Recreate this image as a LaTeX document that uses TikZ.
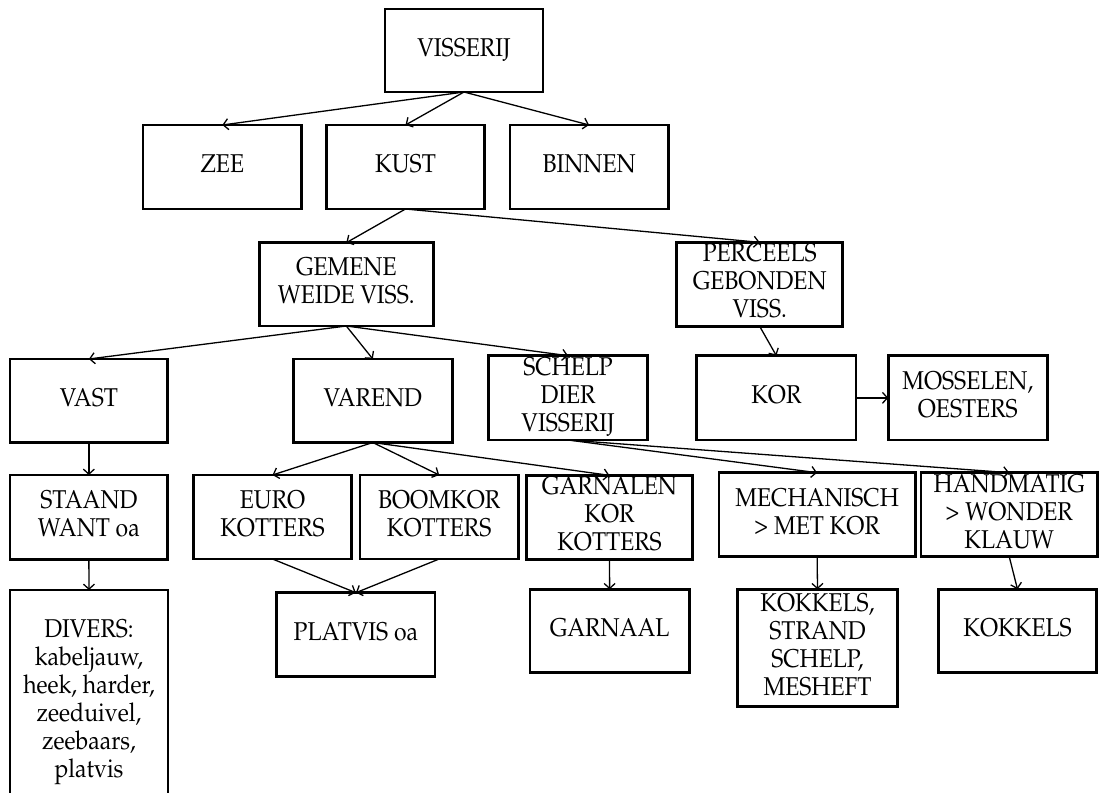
\documentclass[tikz,border=0pt]{standalone}
\usepackage[T1]{fontenc}
\usepackage{mathpazo}
\usepackage{graphicx}
\usetikzlibrary{arrows.meta}

% centred, slightly tall text block for the boxes
\newcommand\boxtext[1]{\scalebox{1}[1.12]{\begin{tabular}{@{}c@{}}#1\end{tabular}}}

\tikzset{
  box/.style={draw, line width=2.8pt, inner sep=0pt, outer sep=0pt,
              font=\fontsize{23}{25}\selectfont},
  link/.style={line width=1.3pt, -{Straight Barb[length=5pt,width=11pt]}},
}

% \bx{name}{left}{top}{right}{bottom}{text}
\newcommand\bx[6]{%
  \node[box, minimum width={#4-#2}, minimum height={#5-#3}]
    (#1) at ({(#2+#4)/2},{(#3+#5)/2}) {\boxtext{#6}};}

\begin{document}
\begin{tikzpicture}[x=1pt,y=-1pt]
\useasboundingbox (0,0) rectangle (1099,792);
\clip (0,0) rectangle (1099,792);

% level 0 and 1
\bx{vis}{385}{9}{543}{92}{VISSERIJ}
\bx{zee}{143}{125}{301.7}{209}{ZEE}
\bx{kust}{326.7}{125}{484.3}{209}{KUST}
\bx{binnen}{510}{125}{668.3}{209}{BINNEN}

% level 2
\bx{gemene}{259.3}{242.7}{433.3}{326}{GEMENE\\WEIDE VISS.}
\bx{perceels}{676.7}{242.7}{842.7}{326}{PERCEELS\\GEBONDEN\\VISS.}

% level 3
\bx{vast}{10}{359}{167.7}{442.3}{VAST}
\bx{varend}{293.3}{359}{452.3}{442.5}{VAREND}
\bx{schelp}{488.5}{355.7}{647.7}{440}{SCHELP\\DIER\\VISSERIJ}
\bx{kor}{696.7}{355.7}{856}{440}{KOR}
\bx{mosselen}{888.3}{355.7}{1047.3}{440}{MOSSELEN,\\OESTERS}

% level 4
\bx{staand}{10}{475}{167.7}{559.3}{STAAND\\WANT oa}
\bx{euro}{193.3}{475}{351.7}{559}{EURO\\KOTTERS}
\bx{boomkor}{360}{475}{518.3}{559}{BOOMKOR\\KOTTERS}
\bx{garnalen}{526.7}{475.7}{692.3}{559}{GARNALEN\\KOR\\KOTTERS}
\bx{mech}{719}{472.7}{915.3}{556.7}{MECHANISCH\\> MET KOR}
\bx{hand}{921}{472.7}{1097.5}{556.7}{HANDMATIG\\> WONDER\\KLAUW}

% level 5
\bx{divers}{10}{590}{168}{813.6}{DIVERS:\\kabeljauw,\\heek, harder,\\zeeduivel,\\zeebaars,\\platvis}
\bx{platvis}{276.7}{592.7}{435}{676.7}{PLATVIS oa}
\bx{garnaal}{530}{589.3}{689.3}{672.7}{GARNAAL}
\bx{kstrand}{737.7}{589.3}{897.3}{706.7}{KOKKELS,\\STRAND\\SCHELP,\\MESHEFT}
\bx{kokkels}{938.3}{589.3}{1096.7}{672.7}{KOKKELS}

% connectors
\draw[link] (vis.south) -- (zee.north);
\draw[link] (vis.south) -- (kust.north);
\draw[link] (vis.south) -- (binnen.north);
\draw[link] (kust.south) -- (gemene.north);
\draw[link] (kust.south) -- (perceels.north);
\draw[link] (gemene.south) -- (vast.north);
\draw[link] (gemene.south) -- (varend.north);
\draw[link] (gemene.south) -- (schelp.north);
\draw[link] (perceels.south) -- (kor.north);
\draw[link] (kor.east) -- (mosselen.west);
\draw[link] (vast.south) -- (staand.north);
\draw[link] (staand.south) -- (divers.north);
\draw[link] (varend.south) -- (euro.north);
\draw[link] (varend.south) -- (boomkor.north);
\draw[link] (varend.south) -- (garnalen.north);
\draw[link] (schelp.south) -- (mech.north);
\draw[link] (schelp.south) -- (hand.north);
\draw[link] (euro.south) -- (platvis.north);
\draw[link] (boomkor.south) -- (platvis.north);
\draw[link] (garnalen.south) -- (garnaal.north);
\draw[link] (mech.south) -- (kstrand.north);
\draw[link] (hand.south) -- (kokkels.north);
\end{tikzpicture}
\end{document}
